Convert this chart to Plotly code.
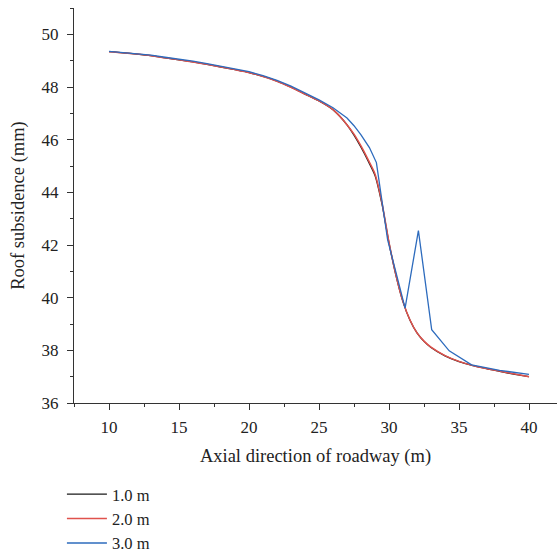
import plotly.graph_objects as go

# Roof subsidence along the roadway axis for three support spacings
x_smooth = [10, 11, 12, 13, 14, 15, 16, 17, 18, 19, 20, 21, 22, 23, 24, 25, 26,
            26.5, 27, 27.5, 28, 28.5, 29, 29.5, 30, 30.5, 31, 31.5, 32, 32.5,
            33, 34, 35, 36, 37, 38, 39, 40]

sub_1m = [49.34, 49.30, 49.25, 49.19, 49.11, 49.03, 48.95, 48.86, 48.76, 48.66,
          48.55, 48.40, 48.22, 47.99, 47.73, 47.47, 47.14, 46.88, 46.56, 46.17,
          45.71, 45.20, 44.64, 43.55, 42.08, 40.84, 39.84, 39.14, 38.66, 38.34,
          38.11, 37.79, 37.57, 37.42, 37.30, 37.19, 37.09, 37.00]

sub_2m = [49.34, 49.30, 49.25, 49.19, 49.11, 49.03, 48.95, 48.86, 48.76, 48.66,
          48.55, 48.40, 48.22, 47.99, 47.73, 47.47, 47.14, 46.88, 46.57, 46.21,
          45.76, 45.25, 44.70, 43.60, 42.10, 40.85, 39.85, 39.15, 38.66, 38.35,
          38.12, 37.80, 37.58, 37.42, 37.30, 37.20, 37.10, 37.00]

x_3m = [10, 11, 12, 13, 14, 15, 16, 17, 18, 19, 20, 21, 22, 23, 24, 25, 26,
        26.5, 27, 27.5, 28, 28.6, 29.1, 29.9, 31.15, 32.1, 33.05, 34.3, 35.9,
        37.9, 40]
sub_3m = [49.35, 49.31, 49.26, 49.21, 49.13, 49.06, 48.98, 48.89, 48.79, 48.69,
          48.58, 48.43, 48.25, 48.03, 47.77, 47.51, 47.21, 47.02, 46.82, 46.53,
          46.18, 45.70, 45.13, 42.20, 39.60, 42.55, 38.78, 37.98, 37.45, 37.24,
          37.09]

names = ["1.0 m", "2.0 m", "3.0 m"]
colors = ["#1a1a1a", "#e0524c", "#2d6bbd"]

FONT = "Liberation Serif"
TXT = "#222222"

fig = go.Figure()
fig.add_trace(go.Scatter(x=x_smooth, y=sub_1m, mode="lines", name=names[0],
                         line=dict(color=colors[0], width=1.3, shape="spline",
                                   smoothing=0.7)))
fig.add_trace(go.Scatter(x=x_smooth, y=sub_2m, mode="lines", name=names[1],
                         line=dict(color=colors[1], width=1.5, shape="spline",
                                   smoothing=0.7)))
fig.add_trace(go.Scatter(x=x_3m, y=sub_3m, mode="lines", name=names[2],
                         line=dict(color=colors[2], width=1.3)))

axis_common = dict(
    showline=True, linecolor="#333333", linewidth=1,
    showgrid=False, zeroline=False,
    ticks="outside", ticklen=6, tickwidth=1, tickcolor="#333333",
    tickfont=dict(family=FONT, size=17, color=TXT),
)

fig.update_xaxes(
    range=[7.5, 42], tickvals=[10, 15, 20, 25, 30, 35, 40],
    ticklabelstandoff=3,
    minor=dict(dtick=2.5, tick0=0, ticks="outside", ticklen=3,
               tickcolor="#333333", tickwidth=1),
    title=dict(text="Axial direction of roadway (m)",
               font=dict(family=FONT, size=18.5, color=TXT), standoff=12),
    **axis_common,
)
fig.update_yaxes(
    range=[36, 51], tickvals=[36, 38, 40, 42, 44, 46, 48, 50],
    ticklabelstandoff=5,
    minor=dict(dtick=1, tick0=0, ticks="outside", ticklen=3,
               tickcolor="#333333", tickwidth=1),
    title=dict(text="Roof subsidence (mm)",
               font=dict(family=FONT, size=18.5, color=TXT), standoff=12),
    **axis_common,
)

fig.update_layout(
    width=558, height=556,
    margin=dict(l=74, r=1, t=8, b=153, autoexpand=False),
    plot_bgcolor="white", paper_bgcolor="white",
    showlegend=True,
    legend=dict(x=-0.025, y=-0.187, xanchor="left", yanchor="top",
                font=dict(family=FONT, size=16.5, color=TXT),
                bgcolor="rgba(0,0,0,0)", itemwidth=40, tracegroupgap=0),
)

fig.write_html("out.html")
